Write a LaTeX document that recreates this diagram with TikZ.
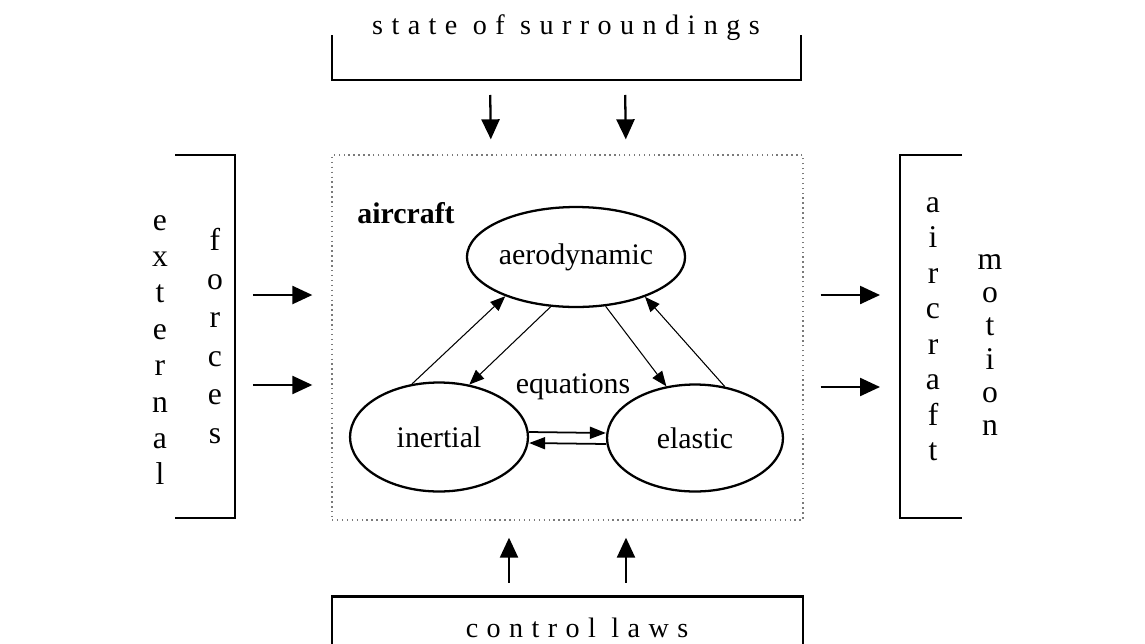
\documentclass[tikz,border=0pt]{standalone}
\usepackage{fontspec}
\setmainfont{Liberation Serif}
\usetikzlibrary{shapes.geometric, arrows.meta, positioning}
\definecolor{boxgrey}{HTML}{7a7a7a}
\tikzset{
  bracketbox/.style={rectangle, inner sep=0, outer sep=0},
  bracket/.style={line width=1.4pt, draw=black},
  sysbox/.style={rectangle, draw=boxgrey, dotted, line width=0.8pt, inner sep=0,
                 minimum width=9.42cm, minimum height=7.3cm},
  block/.style={ellipse, draw, line width=1.3pt, inner sep=0,
                minimum width=3.52cm, minimum height=2.14cm,
                font=\fontsize{17}{19}\selectfont},
  spaced/.style={inner sep=1pt, font=\fontsize{16}{18}\selectfont\addfontfeature{LetterSpace=30}},
  stack/.style={align=center, inner sep=0},
  biglink/.style={-{Triangle[length=4mm,width=3.6mm]}, line width=1.3pt},
  link/.style={-{Triangle[length=3mm,width=2.4mm]}, line width=0.6pt},
  eqlink/.style={-{Triangle[length=3.2mm,width=2.4mm]}, line width=1pt},
}

\begin{document}
\begin{tikzpicture}[x=0.02cm, y=-0.02cm]
  \useasboundingbox (0,0) rectangle (1145,643);

  % surroundings, inputs, outputs
  \node[bracketbox, minimum width=9.38cm, minimum height=0.9cm] (surr) at (566.5,57.5) {};
  \node[bracketbox, minimum width=1.2cm, minimum height=7.26cm] (ext) at (205,336.5) {};
  \node[bracketbox, minimum width=1.24cm, minimum height=7.26cm] (mot) at (931,336.5) {};
  \node[bracketbox, minimum width=9.42cm, minimum height=1.1cm] (ctrl) at (567.5,624) {};

  \draw[bracket] (surr.north west) -- (surr.south west) -- (surr.south east) -- (surr.north east);
  \draw[bracket] (ext.north west) -- (ext.north east) -- (ext.south east) -- (ext.south west);
  \draw[bracket] (mot.north east) -- (mot.north west) -- (mot.south west) -- (mot.south east);
  \draw[bracket] (ctrl.south west) -- (ctrl.north west) -- (ctrl.north east) -- (ctrl.south east);

  \node[spaced] (surrtext) at (566,28) {state of surroundings};
  \node[spaced] (ctrltext) at (577,628) {control laws};

  \node[stack, font=\fontsize{18}{20.7}\selectfont] (exttext) at (160,350) {e\\x\\t\\e\\r\\n\\a\\l};
  \node[stack, font=\fontsize{18}{22}\selectfont] (forctext) at (215,336) {f\\o\\r\\c\\e\\s};
  \node[stack, font=\fontsize{18}{20.2}\selectfont] (acttext) at (933,329) {a\\i\\r\\c\\r\\a\\f\\t};
  \node[stack, font=\fontsize{18}{18.9}\selectfont] (mottext) at (990,345) {m\\o\\t\\i\\o\\n};

  % aircraft
  \node[sysbox] (sys) at (567.5,337.5) {};
  \node[font=\fontsize{17}{19}\selectfont\bfseries] (sysname) at (406,213) {aircraft};

  \node[block, minimum width=3.5cm, minimum height=2cm] (aero) at (576,257) {aerodynamic};
  \node[block, minimum width=3.56cm, minimum height=2.18cm] (inert) at (439,437) {inertial};
  \node[block] (elast) at (695,438) {elastic};
  \node[font=\fontsize{17}{19}\selectfont] (eqs) at (573,387) {equations};

  \draw[link] (inert.117) -- (aero.209);
  \draw[link] (aero.243) -- (inert.60);
  \draw[link] (aero.301) -- (elast.119);
  \draw[link] (elast.60) -- (aero.330);
  \draw[eqlink] ([yshift=0.1cm]inert.east) -- ([yshift=0.1cm]elast.west);
  \draw[eqlink] ([yshift=-0.12cm]elast.west) -- ([yshift=-0.12cm]inert.east);

  \draw[biglink, shorten <=0.3cm, shorten >=0.3cm] ([xshift=-1.53cm]surr.south) -- ([xshift=-1.53cm]sys.north);
  \draw[biglink, shorten <=0.3cm, shorten >=0.3cm] ([xshift=1.17cm]surr.south) -- ([xshift=1.17cm]sys.north);
  \draw[biglink, shorten <=0.36cm, shorten >=0.38cm] ([yshift=0.83cm]ext.east) -- ([yshift=0.83cm]ext.east -| sys.west);
  \draw[biglink, shorten <=0.36cm, shorten >=0.38cm] ([yshift=-0.97cm]ext.east) -- ([yshift=-0.97cm]ext.east -| sys.west);
  \draw[biglink, shorten <=0.34cm, shorten >=0.4cm] ([yshift=0.83cm]mot.west -| sys.east) -- ([yshift=0.83cm]mot.west);
  \draw[biglink, shorten <=0.34cm, shorten >=0.4cm] ([yshift=-1.01cm]mot.west -| sys.east) -- ([yshift=-1.01cm]mot.west);
  \draw[biglink, shorten <=0.28cm, shorten >=0.34cm] ([xshift=-1.17cm]ctrl.north) -- ([xshift=-1.17cm]sys.south);
  \draw[biglink, shorten <=0.28cm, shorten >=0.34cm] ([xshift=1.17cm]ctrl.north) -- ([xshift=1.17cm]sys.south);
\end{tikzpicture}
\end{document}
